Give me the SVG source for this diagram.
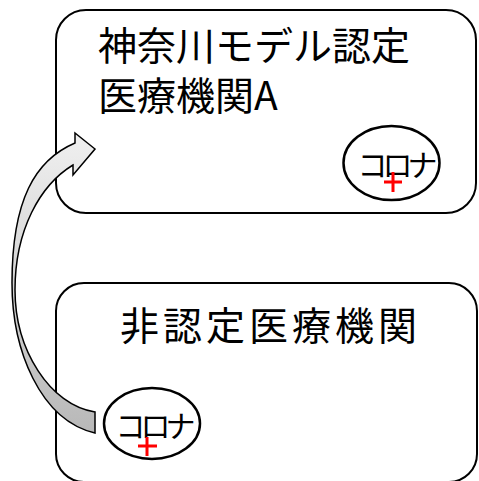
<svg xmlns="http://www.w3.org/2000/svg" width="479" height="481" viewBox="0 0 479 481">
<style>
.box{fill:#fff;stroke:#000;stroke-width:2}
.oval{fill:#fff;stroke:#000;stroke-width:2.5}
.big{font-family:"Noto Sans CJK JP","Noto Sans",sans-serif;font-size:39px;fill:#000}
.small{font-family:"Noto Sans CJK JP","Noto Sans",sans-serif;font-size:30px;letter-spacing:-5px;fill:#000}
.plus{stroke:#f00;stroke-width:3;fill:none}
</style>
<defs>
<linearGradient id="g" x1="0" y1="1" x2="0" y2="0">
<stop offset="0" stop-color="#b8b8b8"/>
<stop offset="1" stop-color="#f0f0f0"/>
</linearGradient>
</defs>
<g id="nodeA">
<rect class="box" x="56" y="10" width="420" height="203" rx="30"/>
<text class="big"><tspan x="98" y="60">神奈川モデル認定</tspan><tspan x="98" y="110">医療機関A</tspan></text>
</g>
<g id="nodeB">
<rect class="box" x="56" y="283" width="421" height="199" rx="28"/>
<text class="big" x="120" y="340" letter-spacing="4">非認定医療機関</text>
</g>
<g id="coronaA">
<ellipse class="oval" cx="391.5" cy="163" rx="48" ry="37"/>
<text class="small" x="357.5" y="176">コロナ</text>
<path class="plus" d="M384 182H402M393 172V192"/>
</g>
<g id="coronaB">
<ellipse class="oval" cx="152" cy="423.5" rx="48" ry="35.5"/>
<text class="small" x="115.5" y="437">コロナ</text>
<path class="plus" d="M138 446H157M147 437V456"/>
</g>
<g id="connectors">
<path d="M95 433 C40 420 12 350 12 283 C12 200 35 160 75 143 L75 133 L95 149 L73 175 L73 165 C40 185 15 230 15 290 C15 350 50 405 95 412 Z" fill="url(#g)" stroke="#000" stroke-width="1.5" stroke-linejoin="miter"/>
</g>
</svg>
